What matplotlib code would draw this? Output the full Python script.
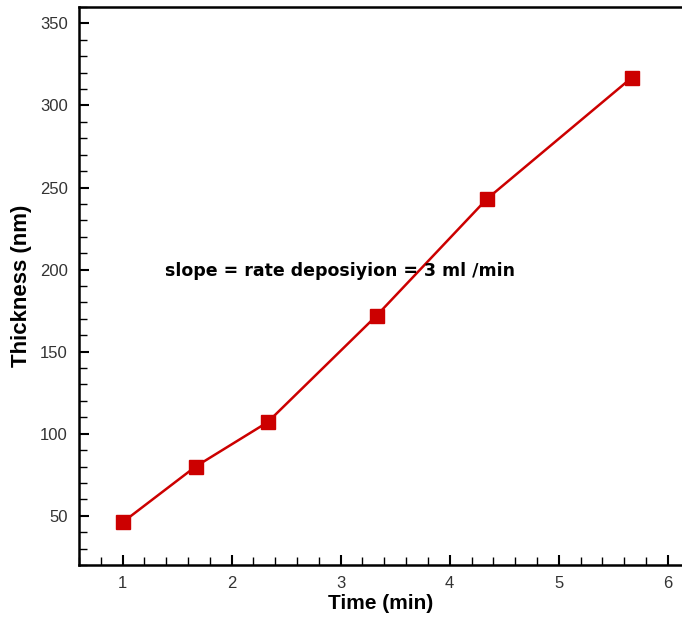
import matplotlib.pyplot as plt
from matplotlib.ticker import MultipleLocator

# Espesor de la capa frente al tiempo de deposicion
time_min = [1.0, 1.67, 2.33, 3.33, 4.34, 5.67]
thickness_nm = [46, 80, 107, 172, 243, 317]
x_ticks = [1, 2, 3, 4, 5, 6]
y_ticks = [50, 100, 150, 200, 250, 300, 350]

plt.rcParams['font.family'] = ['Liberation Sans', 'DejaVu Sans']

fig = plt.figure(figsize=(6.82, 6.21), dpi=100)
ax = fig.add_axes([0.1158, 0.0902, 0.8842, 0.8985])

ax.plot(time_min, thickness_nm, color='#cc0000', linewidth=1.8,
        marker='s', markersize=9.5, markerfacecolor='#cc0000', markeredgecolor='#cc0000')

ax.text(1.39, 199, 'slope = rate deposiyion = 3 ml /min', fontsize=12.5,
        fontweight='bold', family='DejaVu Sans', va='center', ha='left')

ax.set_xlim(0.6, 6.13)
ax.set_ylim(20, 360)
ax.set_xticks(x_ticks)
ax.set_yticks(y_ticks)
ax.xaxis.set_minor_locator(MultipleLocator(0.2))
ax.yaxis.set_minor_locator(MultipleLocator(10))
ax.tick_params(which='both', direction='in', top=False, right=False,
               labelsize=12, labelcolor='#333333')
ax.tick_params(which='major', length=7, width=1.5, pad=8)
ax.tick_params(which='minor', length=6, width=1.0)

for side in ['left', 'bottom', 'top']:
    ax.spines[side].set_linewidth(1.8)
ax.spines['right'].set_visible(False)

ax.set_xlabel('Time (min)', fontsize=15, fontweight='bold', labelpad=2)
ax.set_ylabel('Thickness (nm)', fontsize=16, fontweight='bold', labelpad=6)

plt.savefig('out.png', dpi=100)
plt.close()
